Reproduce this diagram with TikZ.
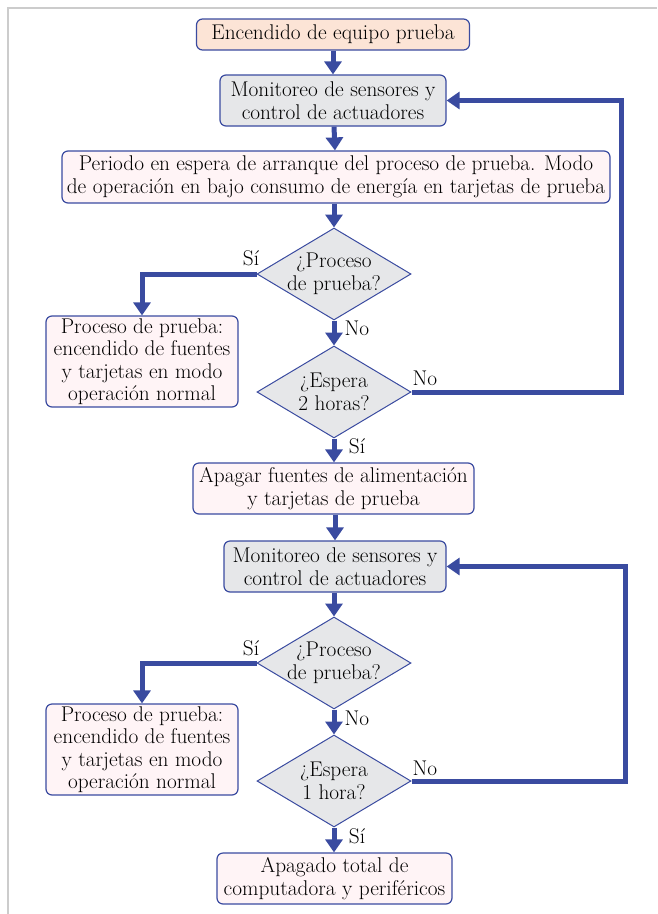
\documentclass[tikz,border=0pt]{standalone}
\usepackage{fontspec}
\usetikzlibrary{arrows.meta,shapes.geometric}
\definecolor{flowblue}{HTML}{3A4BA0}
\definecolor{peachfill}{HTML}{FCE4D6}
\definecolor{grayfill}{HTML}{E6E7E9}
\definecolor{pinkfill}{HTML}{FFF4F6}
\definecolor{framegray}{HTML}{CCCCCC}
\begin{document}
\begin{tikzpicture}[x=1pt,y=-1pt,
  txt/.style={font=\fontsize{21.3}{22.5}\selectfont, align=center, inner sep=0pt},
  box/.style={txt, draw=flowblue, line width=1.2pt, rounded corners=6pt},
  startbox/.style={box, fill=peachfill},
  monbox/.style={box, fill=grayfill},
  procbox/.style={box, fill=pinkfill},
  decision/.style={shape=diamond, draw=flowblue, line width=1pt, fill=grayfill,
    inner sep=0pt, minimum width=154pt, minimum height=92pt},
  flow/.style={draw=flowblue, line width=5pt, -{Triangle[width=17pt,length=13pt]}},
  lbl/.style={font=\fontsize{21.3}{22.5}\selectfont, inner sep=0pt}
]
\useasboundingbox (0,0) rectangle (657,914);
% page frame
\draw[framegray, line width=1.6pt] (8,914) -- (8,8) -- (657,8);

% upper section
\node[startbox, minimum width=273pt, minimum height=31pt] (start) at (333,34.5) {Encendido de equipo prueba};
\node[monbox, minimum width=226pt, minimum height=51pt] (mon1) at (333,100.5) {Monitoreo de sensores y\\control de actuadores};
\node[procbox, minimum width=548pt, minimum height=52pt] (wait) at (336,177) {Periodo en espera de arranque del proceso de prueba. Modo\\de operación en bajo consumo de energía en tarjetas de prueba};
\node[decision] (d1) at (334,274) {};
\node[txt] (d1t) at (d1) {¿Proceso\\de prueba?};
\node[procbox, minimum width=192pt, minimum height=91pt] (run1) at (142,361.5) {Proceso de prueba:\\encendido de fuentes\\y tarjetas en modo\\operación normal};
\node[decision] (d2) at (334,392) {};
\node[txt] (d2t) at (d2) {¿Espera\\2 horas?};
\node[procbox, minimum width=281pt, minimum height=51pt] (off) at (333.5,488.5) {Apagar fuentes de alimentación\\y tarjetas de prueba};

% lower section
\node[monbox, minimum width=222pt, minimum height=51pt] (mon2) at (335,566.5) {Monitoreo de sensores y\\control de actuadores};
\node[decision] (d3) at (334,663) {};
\node[txt] (d3t) at (d3) {¿Proceso\\de prueba?};
\node[procbox, minimum width=192pt, minimum height=91pt] (run2) at (142,749.5) {Proceso de prueba:\\encendido de fuentes\\y tarjetas en modo\\operación normal};
\node[decision] (d4) at (334,781) {};
\node[txt] (d4t) at (d4) {¿Espera\\1 hora?};
\node[procbox, minimum width=235pt, minimum height=51pt] (end) at (334.5,878.5) {Apagado total de\\computadora y periféricos};

% connectors, upper section
\draw[flow] (start) -- (mon1);
\draw[flow] (mon1) -- (wait);
\draw[flow] (wait.south -| d1.north) -- (d1.north);
\draw[flow] (d1.west) -| (run1.north);
\draw[flow] (d1.south) -- (d2.north);
\draw[flow] (d2.east) -- ++(210,0) |- (mon1.east);
\draw[flow] (d2.south) -- (d2.south |- off.north);

% connectors, lower section
\draw[flow] (off.south -| mon2.north) -- (mon2.north);
\draw[flow] (mon2.south -| d3.north) -- (d3.north);
\draw[flow] (d3.west) -| (run2.north);
\draw[flow] (d3.south) -- (d4.north);
\draw[flow] (d4.east) -- ++(214,0) |- (mon2.east);
\draw[flow] (d4.south) -- (d4.south |- end.north);

% branch labels
\node[lbl] (s1) at (251,258) {Sí};
\node[lbl] (n1) at (357,328) {No};
\node[lbl] (n2) at (425,378) {No};
\node[lbl] (s2) at (357,446) {Sí};
\node[lbl] (s3) at (251,648) {Sí};
\node[lbl] (n3) at (357,718) {No};
\node[lbl] (n4) at (425,768) {No};
\node[lbl] (s4) at (357,836) {Sí};
\end{tikzpicture}
\end{document}
